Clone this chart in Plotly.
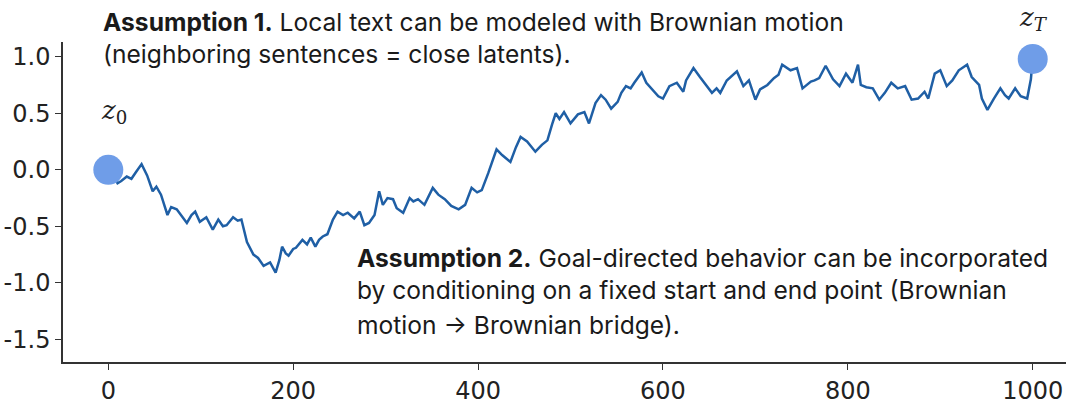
import plotly.graph_objects as go

# Brownian bridge path
steps = [0, 5, 10, 14, 20, 25, 30, 36, 42, 48, 52, 57, 64, 68, 74, 80, 85, 90, 94, 99,
         106, 113, 119, 124, 128, 135, 140, 144, 150, 157, 162, 168, 175, 181, 185, 188, 192, 195, 200, 203,
         210, 215, 219, 224, 228, 232, 237, 243, 248, 254, 259, 266, 272, 277, 282, 288, 293, 297, 302, 308,
         312, 319, 326, 330, 335, 342, 351, 357, 364, 371, 379, 386, 393, 399, 404, 411, 416, 420, 426, 431,
         435, 441, 446, 453, 458, 462, 469, 475, 480, 484, 488, 493, 500, 508, 515, 520, 527, 533, 538, 544,
         551, 555, 560, 565, 569, 577, 582, 589, 595, 600, 607, 615, 622, 625, 633, 640, 647, 653, 658, 662,
         669, 675, 680, 687, 693, 700, 705, 713, 720, 725, 729, 738, 745, 751, 760, 764, 769, 776, 784, 791,
         798, 805, 811, 814, 820, 827, 834, 840, 847, 854, 862, 869, 876, 883, 887, 894, 900, 907, 913, 920,
         929, 934, 942, 945, 951, 958, 965, 970, 974, 981, 987, 994, 998, 1000]
latent = [0.0, -0.05, -0.12, -0.10, -0.06, -0.08, -0.02, 0.05, -0.05, -0.19, -0.15, -0.22, -0.40, -0.33, -0.35, -0.42, -0.47, -0.40, -0.37, -0.46,
          -0.42, -0.53, -0.44, -0.50, -0.49, -0.42, -0.45, -0.44, -0.64, -0.75, -0.78, -0.85, -0.82, -0.91, -0.80, -0.68, -0.74, -0.76, -0.70, -0.69,
          -0.62, -0.66, -0.60, -0.68, -0.62, -0.59, -0.57, -0.44, -0.37, -0.40, -0.38, -0.43, -0.37, -0.49, -0.47, -0.40, -0.19, -0.31, -0.25, -0.26,
          -0.34, -0.38, -0.25, -0.28, -0.26, -0.31, -0.16, -0.22, -0.26, -0.32, -0.35, -0.31, -0.16, -0.20, -0.18, -0.03, 0.08, 0.18, 0.13, 0.10,
          0.07, 0.20, 0.29, 0.25, 0.20, 0.16, 0.22, 0.26, 0.40, 0.50, 0.45, 0.51, 0.41, 0.49, 0.51, 0.41, 0.59, 0.66, 0.62, 0.54,
          0.60, 0.68, 0.74, 0.72, 0.77, 0.86, 0.77, 0.71, 0.65, 0.63, 0.74, 0.77, 0.69, 0.79, 0.90, 0.82, 0.74, 0.68, 0.72, 0.68,
          0.79, 0.83, 0.87, 0.74, 0.79, 0.62, 0.71, 0.75, 0.81, 0.84, 0.93, 0.88, 0.90, 0.72, 0.78, 0.79, 0.81, 0.92, 0.80, 0.74,
          0.85, 0.77, 0.93, 0.75, 0.73, 0.72, 0.62, 0.68, 0.77, 0.72, 0.74, 0.62, 0.63, 0.69, 0.63, 0.85, 0.88, 0.74, 0.79, 0.88,
          0.93, 0.82, 0.75, 0.63, 0.53, 0.63, 0.72, 0.66, 0.63, 0.72, 0.65, 0.63, 0.80, 0.98]

end_x = [0, 1000]
end_y = [0.0, 0.98]
x_ticks = [0, 200, 400, 600, 800, 1000]
y_ticks = [1.0, 0.5, 0.0, -0.5, -1.0, -1.5]

fig = go.Figure()
fig.add_trace(go.Scatter(x=steps, y=latent, mode="lines",
                         line=dict(color="#1f5fa5", width=2.5), hoverinfo="skip"))
fig.add_trace(go.Scatter(x=end_x, y=end_y, mode="markers",
                         marker=dict(color="#6f9de8", size=30, line=dict(width=0)), cliponaxis=False))

txt = dict(family="Inter, 'Noto Sans', sans-serif", size=24.6, color="#1a1a1a")
lines = [
    (0.038, 1.0625, "<b>Assumption 1.</b> Local text can be modeled with Brownian motion"),
    (0.038, 0.9625, "(neighboring sentences = close latents)."),
    (0.291, 0.325, "<b>Assumption 2.</b> Goal-directed behavior can be incorporated"),
    (0.291, 0.225, "by conditioning on a fixed start and end point (Brownian"),
    (0.291, 0.1156, "motion \u2192 Brownian bridge)."),
]
for xp, yp, t in lines:
    fig.add_annotation(x=xp, y=yp, xref="paper", yref="paper", text=t, showarrow=False,
                       xanchor="left", yanchor="middle", font=txt)

math = dict(family="'DejaVu Serif', serif", size=26, color="#222222")
fig.add_annotation(x=0.036, y=0.84, xref="paper", yref="paper", text="<i>z</i><sub>0</sub>",
                   showarrow=False, font=math)
fig.add_annotation(x=0.984, y=1.13, xref="paper", yref="paper", text="<i>z<sub>T</sub></i>",
                   showarrow=False, font=math)

axis_common = dict(showgrid=False, zeroline=False, showline=True, linecolor="#333333", linewidth=1.5,
                   ticks="outside", ticklen=6, tickwidth=1.2, tickcolor="#333333", automargin=False,
                   tickfont=dict(family="'DejaVu Sans', Verdana, sans-serif", size=24, color="#222222"))
fig.update_xaxes(range=[-49, 1036], tickvals=x_ticks, ticktext=[str(v) for v in x_ticks], **axis_common)
fig.update_yaxes(range=[-1.70, 1.13], tickvals=y_ticks, ticktext=[f"{v:.1f}" for v in y_ticks],
                 **axis_common)

fig.update_layout(width=1080, height=414, showlegend=False,
                  margin=dict(l=63, r=14, t=42, b=52),
                  plot_bgcolor="white", paper_bgcolor="white")

# drop the default 8px page margin so the figure fills the window exactly
fig.write_html("out.html", config={"displayModeBar": False},
               post_script="document.body.style.margin='0';")
